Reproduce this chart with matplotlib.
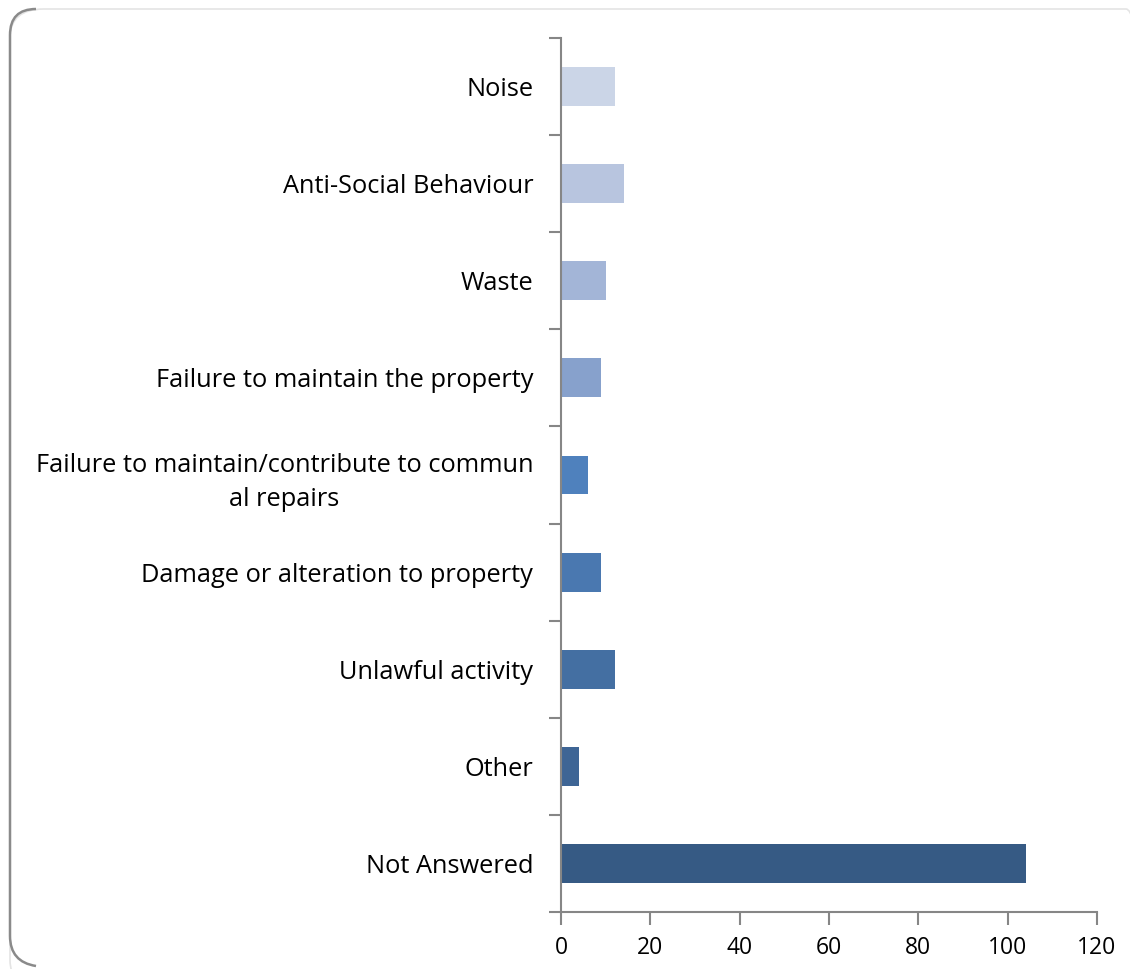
import numpy as np
import matplotlib.pyplot as plt
from matplotlib.patches import FancyBboxPatch
from matplotlib.path import Path
from matplotlib.patches import PathPatch

plt.rcParams["font.family"] = ["Open Sans", "DejaVu Sans"]

categorias = ["Noise", "Anti-Social Behaviour", "Waste",
              "Failure to maintain the property",
              "Failure to maintain/contribute to commun\nal repairs",
              "Damage or alteration to property", "Unlawful activity",
              "Other", "Not Answered"]
valores = [12, 14, 10, 9, 6, 9, 12, 4, 104]
colores = ["#cbd5e7", "#b8c5df", "#a3b5d7", "#87a1cc", "#4f81bd",
           "#4a78b0", "#446fa2", "#3e6595", "#365a84"]

fig = plt.figure(figsize=(11.3, 9.69), dpi=100)
ax = fig.add_axes([0.4965, 0.0588, 0.4743, 0.902])

y = np.arange(len(categorias))[::-1]
ax.barh(y, valores, height=0.4, color=colores)
ax.set_xlim(0, 120)
ax.set_ylim(-0.5, len(categorias) - 0.5)
ax.set_xticks(np.arange(0, 121, 20))
ax.set_yticks(y)
ax.set_yticklabels(categorias, fontsize=18.3, multialignment="center",
                   linespacing=1.45)
ax.set_yticks(np.arange(-0.5, len(categorias), 1), minor=True)
ax.tick_params(axis="y", which="major", length=0, pad=20)
ax.tick_params(axis="y", which="minor", length=9, width=1.5, color="#868686")
ax.tick_params(axis="x", length=9, width=1.5, color="#868686",
               labelsize=16.5, pad=8)
for lado in ["top", "right"]:
    ax.spines[lado].set_visible(False)
for lado in ["left", "bottom"]:
    ax.spines[lado].set_color("#868686")
    ax.spines[lado].set_linewidth(1.5)

# marco redondeado
marco = FancyBboxPatch((10 / 1130, -20 / 969), 1150 / 1130, 980 / 969,
                       boxstyle="round,pad=0,rounding_size=0.03",
                       transform=fig.transFigure, facecolor="none",
                       edgecolor="#e4e4e4", linewidth=1.2, clip_on=False)
fig.patches.append(marco)
r = 26
x0, y0, y1 = 10, 962, 9
verts = [(x0 + r, y1), (x0, y1), (x0, y1 + r), (x0, y0 - r), (x0, y0), (x0 + r, y0 + 4)]
verts = [(vx / 1130, 1 - vy / 969) for vx, vy in verts]
codes = [Path.MOVETO, Path.CURVE3, Path.CURVE3, Path.LINETO, Path.CURVE3, Path.CURVE3]
fig.patches.append(PathPatch(Path(verts, codes), transform=fig.transFigure,
                             facecolor="none", edgecolor="#8a8a8a", linewidth=1.8))

fig.savefig("out.png", dpi=100)
